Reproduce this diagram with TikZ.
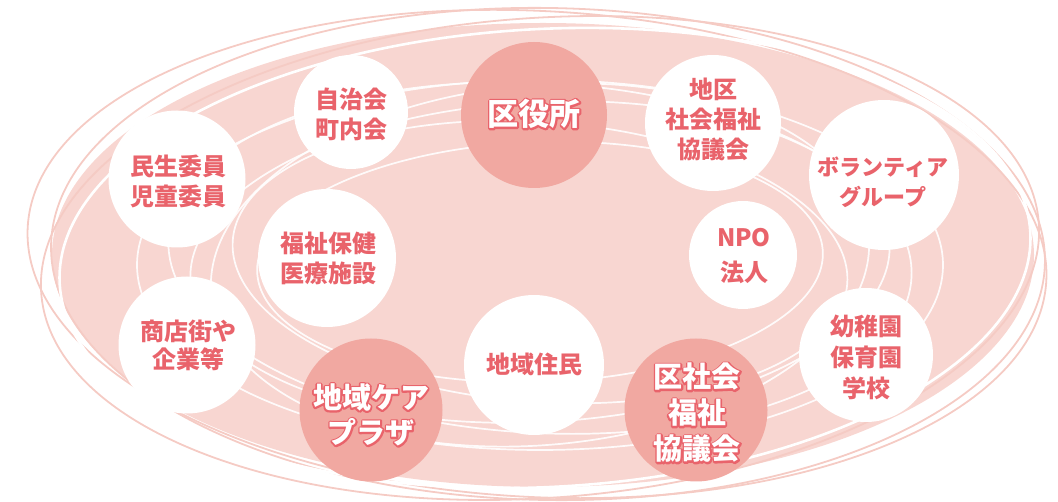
\documentclass[tikz,border=0pt]{standalone}
\usepackage{fontspec}
\newfontfamily\jp{Noto Sans CJK JP}
\definecolor{bgpink}{HTML}{F8D6D1}
\definecolor{darkpink}{HTML}{F1A8A1}
\definecolor{txtpink}{HTML}{E9636B}
\definecolor{linepink}{HTML}{F5CBC4}
\tikzset{
  wcirc/.style={circle, fill=white, draw=none, inner sep=0pt},
  dcirc/.style={circle, fill=darkpink, draw=none, inner sep=0pt},
  lbl/.style={align=center, text=txtpink, inner sep=0pt, font=\jp\bfseries\fontsize{24}{30}\selectfont},
  biglbl/.style={align=center, inner sep=0pt, font=\jp\bfseries\fontsize{29}{36}\selectfont},
  outerline/.style={draw=linepink, line width=1.8pt},
  whiteline/.style={draw=white, line width=2.6pt},
  innerline/.style={draw=white, line width=1.7pt, opacity=0.9}
}
\newcommand\strokeon{\special{pdf:literal direct 1 Tr 3.4 w 1 j}}
\newcommand\strokeoff{\special{pdf:literal direct 0 Tr}}
\newcommand\outlinedtext[4]{%
  \node[biglbl, #4, text=txtpink] (#1-stroke) at (#2) {\strokeon #3\strokeoff};
  \node[biglbl, #4, text=white] (#1) at (#2) {#3};
}
\begin{document}
\begin{tikzpicture}[x=1pt,y=-1pt]
\useasboundingbox (0,0) rectangle (1058,502);
% background blob
\fill[bgpink] (543,255) ellipse [x radius=491, y radius=232];
% outer outlines
\draw[outerline, rotate around={-3:(537,254)}] (537,254) ellipse [x radius=510, y radius=243];
\draw[outerline, rotate around={4:(540,258)}] (540,258) ellipse [x radius=500, y radius=240];
\draw[outerline, rotate around={-1:(548,254)}] (548,254) ellipse [x radius=497, y radius=246];
% white stroke along the edge
\draw[whiteline, rotate around={3:(545,258)}] (545,258) ellipse [x radius=486, y radius=229];
% inner white connecting rings
\begin{scope}
\clip (543,255) ellipse [x radius=488, y radius=229];
\draw[innerline] (540,265) ellipse [x radius=403, y radius=185];
\draw[innerline, rotate around={3:(540,262)}] (540,262) ellipse [x radius=350, y radius=160];
\draw[innerline, rotate around={-4:(540,262)}] (540,262) ellipse [x radius=308, y radius=140];
\draw[innerline, rotate around={2:(540,262)}] (540,262) ellipse [x radius=283, y radius=120];
\draw[innerline, rotate around={-3:(540,258)}] (540,258) ellipse [x radius=372, y radius=175];
\draw[innerline, rotate around={5:(540,265)}] (540,265) ellipse [x radius=330, y radius=180];
\end{scope}
% circles
\node[dcirc, minimum size=146pt] (kuyakusho) at (534,115) {};
\node[wcirc, minimum size=114pt] (jichikai) at (351,112) {};
\node[wcirc, minimum size=137pt] (minsei) at (177,179) {};
\node[wcirc, minimum size=136pt] (chiku) at (713,123) {};
\node[wcirc, minimum size=150pt] (volunteer) at (884,175) {};
\node[wcirc, minimum size=138pt] (fukushi) at (327,258) {};
\node[wcirc, minimum size=108pt] (npo) at (743,255) {};
\node[wcirc, minimum size=137pt] (shoten) at (187,345) {};
\node[wcirc, minimum size=140pt] (jumin) at (534,365) {};
\node[dcirc, minimum size=143pt] (careplaza) at (371,410) {};
\node[dcirc, minimum size=143pt] (kushakyo) at (696,410) {};
\node[wcirc, minimum size=134pt] (youchien) at (866,355) {};
% labels
\node[lbl] (t-jichikai) at (351,114) {自治会\\町内会};
\node[lbl] (t-minsei) at (178,181) {民生委員\\児童委員};
\node[lbl] (t-chiku) at (713,119) {地区\\社会福祉\\協議会};
\node[lbl, font=\jp\bfseries\fontsize{22}{30}\selectfont] (t-volunteer) at (883,182) {ボランティア\\グループ};
\node[lbl] (t-fukushi) at (328,258) {福祉保健\\医療施設};
\node[lbl, font=\jp\bfseries\fontsize{24}{35}\selectfont] (t-npo) at (744,256) {NPO\\法人};
\node[lbl, font=\jp\bfseries\fontsize{24}{28}\selectfont] (t-shoten) at (188,345) {商店街や\\企業等};
\node[lbl] (t-jumin) at (534,364) {地域住民};
\node[lbl, font=\jp\bfseries\fontsize{24}{31}\selectfont] (t-youchien) at (866,357) {幼稚園\\保育園\\学校};
\outlinedtext{t-kuyakusho}{534,114}{区役所}{font=\jp\bfseries\fontsize{31}{36}\selectfont}
\outlinedtext{t-careplaza}{371,415}{地域ケア\\プラザ}{font=\jp\bfseries\fontsize{29}{35}\selectfont}
\outlinedtext{t-kushakyo}{697,413}{区社会\\福祉\\協議会}{font=\jp\bfseries\fontsize{29}{36}\selectfont}
\end{tikzpicture}
\end{document}
